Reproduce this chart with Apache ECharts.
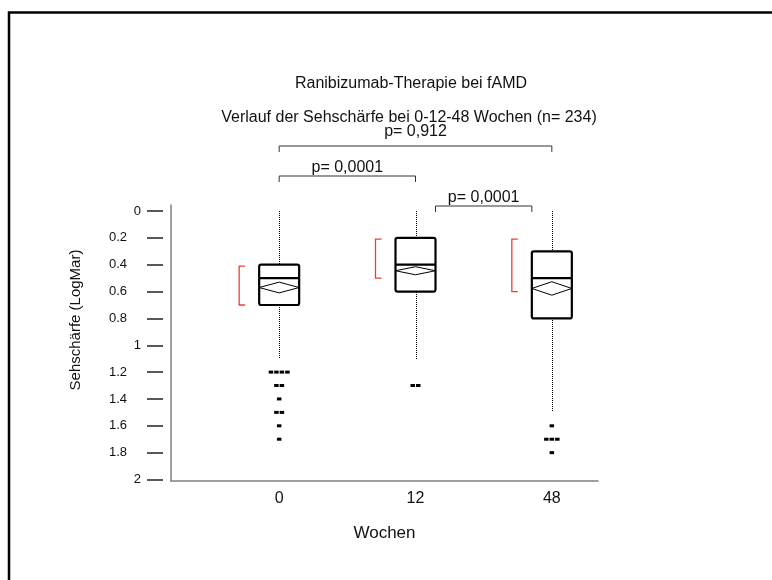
<!DOCTYPE html>
<html>
<head>
<meta charset="utf-8">
<title>Ranibizumab-Therapie bei fAMD</title>
<script src="https://cdn.jsdelivr.net/npm/echarts@6/dist/echarts.min.js"></script>
<style>
  html, body { margin: 0; padding: 0; background: #fff; }
  #chart { width: 772px; height: 580px; }
</style>
</head>
<body>
<div id="chart"></div>
<script>
// Wochen (Kategorien)
const weeks = ["0", "12", "48"];
// Boxplot-Kennwerte (LogMar)
const whiskerTop = [0, 0, 0];
const q1 = [0.4, 0.2, 0.3];
const median = [0.5, 0.4, 0.5];
const q3 = [0.7, 0.6, 0.8];
const whiskerBottom = [1.1, 1.1, 1.5];
// Mittelwert-Raute (Mittelwert +/- 95%-KI)
const means = [0.57, 0.445, 0.577];
const meanCI = [0.04, 0.03, 0.05];
// kürzeste Hälfte (rote Klammer)
const shortHalfLow = [0.41, 0.21, 0.21];
const shortHalfHigh = [0.7, 0.5, 0.6];
// Ausreißer
const outlierWeek = [0, 0, 0, 0, 0, 0, 0, 0, 0, 0, 0, 1, 1, 2, 2, 2, 2, 2];
const outlierValue = [1.2, 1.2, 1.2, 1.2, 1.3, 1.3, 1.4, 1.5, 1.5, 1.6, 1.7, 1.3, 1.3, 1.6, 1.7, 1.7, 1.7, 1.8];
// Vergleiche
const pFrom = [0, 0, 1];
const pTo = [2, 1, 2];
const pText = ["p= 0,912", "p= 0,0001", "p= 0,0001"];
// Y-Achse
const yTicks = { min: 0, max: 2, interval: 0.2 };

// Layout der Vergleichsklammern (Zeile, Einrückung, Abstand Text)
const bracketLayout = [
  { row: 2, inset: 0, lift: 14 },
  { row: 1, inset: 0, lift: 8 },
  { row: 0, inset: 20, lift: 8 },
];

const FONT = "Liberation Sans, Arial, sans-serif";
const BOX_W = 40;

const boxData = weeks.map((w, i) => [
  i, whiskerTop[i], q1[i], median[i], q3[i], whiskerBottom[i],
  means[i], meanCI[i], shortHalfLow[i], shortHalfHigh[i],
]);

const outlierData = outlierWeek.map((w, k) => {
  let slot = 0, n = 0;
  outlierWeek.forEach((w2, j) => {
    if (w2 === w && outlierValue[j] === outlierValue[k]) {
      if (j < k) slot++;
      n++;
    }
  });
  return [w, outlierValue[k], slot, n];
});

const pData = pFrom.map((f, k) => [f, pTo[k], k]);

const renderBox = (params, api) => {
  const i = api.value(0);
  const x = api.coord([i, 0])[0];
  const y = (v) => api.coord([i, v])[1];
  const half = BOX_W / 2;
  const m = api.value(6), ci = api.value(7);
  const bx = x - half - 20;
  // Punktlinie auf ganze Pixel legen, damit sie scharf bleibt
  const wx = Math.round(x) + 0.5;
  const wy = (v) => Math.round(y(v));
  const black = { stroke: "#000", fill: null };
  return {
    type: "group",
    children: [
      { type: "line", shape: { x1: wx, y1: wy(api.value(1)), x2: wx, y2: wy(api.value(2)) },
        style: { ...black, lineWidth: 1, lineDash: [1, 1] } },
      { type: "line", shape: { x1: wx, y1: wy(api.value(4)), x2: wx, y2: wy(api.value(5)) },
        style: { ...black, lineWidth: 1, lineDash: [1, 1] } },
      { type: "rect", shape: { x: x - half, y: y(api.value(2)), width: BOX_W, height: y(api.value(4)) - y(api.value(2)), r: 2 },
        style: { ...black, lineWidth: 2.2 } },
      { type: "line", shape: { x1: x - half, y1: y(api.value(3)), x2: x + half, y2: y(api.value(3)) },
        style: { ...black, lineWidth: 2.2 } },
      { type: "polygon", shape: { points: [[x - half, y(m)], [x, y(m - ci)], [x + half, y(m)], [x, y(m + ci)]] },
        style: { ...black, lineWidth: 1 } },
      { type: "polyline", shape: { points: [[bx + 6, y(api.value(8))], [bx, y(api.value(8))], [bx, y(api.value(9))], [bx + 6, y(api.value(9))]] },
        style: { stroke: "#e8413c", fill: null, lineWidth: 1.3 } },
    ],
  };
};

const renderOutlier = (params, api) => {
  const p = api.coord([api.value(0), api.value(1)]);
  const off = (api.value(2) - (api.value(3) - 1) / 2) * 5.5;
  return {
    type: "rect",
    shape: { x: p[0] + off - 2.25, y: p[1] - 1.5, width: 4.5, height: 3 },
    style: { fill: "#000" },
  };
};

const renderBracket = (params, api) => {
  const k = api.value(2);
  const lay = bracketLayout[k];
  const top = api.coord([0, yTicks.min])[1];
  const ly = top - 5 - 30 * lay.row;
  const x1 = api.coord([api.value(0), 0])[0] + lay.inset;
  const x2 = api.coord([api.value(1), 0])[0] - lay.inset;
  return {
    type: "group",
    children: [
      { type: "polyline", shape: { points: [[x1, ly + 6], [x1, ly], [x2, ly], [x2, ly + 6]] },
        style: { stroke: "#333", fill: null, lineWidth: 1 } },
      { type: "text", x: (x1 + x2) / 2, y: ly - lay.lift,
        style: { text: pText[k], fill: "#111", fontSize: 16, fontFamily: FONT, align: "center", verticalAlign: "middle" } },
    ],
  };
};

const chart = echarts.init(document.getElementById("chart"));

chart.setOption({
  backgroundColor: "#fff",
  animation: false,
  title: [
    { text: "Ranibizumab-Therapie bei fAMD", left: 406, top: 71, textAlign: "center",
      textStyle: { fontSize: 16, fontWeight: "normal", color: "#111", fontFamily: FONT } },
    { text: "Verlauf der Sehschärfe bei 0-12-48 Wochen (n= 234)", left: 404, top: 105, textAlign: "center",
      textStyle: { fontSize: 16, fontWeight: "normal", color: "#111", fontFamily: FONT } },
  ],
  graphic: [
    { type: "rect", shape: { x: 9, y: 12.5, width: 800, height: 600 },
      style: { stroke: "#000", fill: null, lineWidth: 2.5 }, silent: true },
  ],
  grid: [
    { left: 211, right: 152, top: 211, bottom: 100.5 },
    { left: 171, right: 174, top: 205, bottom: 99 },
  ],
  xAxis: [
    {
      gridIndex: 0, type: "category", data: weeks, boundaryGap: true,
      axisLine: { show: false }, axisTick: { show: false }, splitLine: { show: false },
      axisLabel: { fontSize: 16, color: "#111", fontFamily: FONT, margin: 11 },
    },
    {
      gridIndex: 1, type: "value", min: 0, max: 1,
      name: "Wochen", nameLocation: "middle", nameGap: 44,
      nameTextStyle: { fontSize: 17, color: "#111", fontFamily: FONT },
      axisLine: { show: true, lineStyle: { color: "#808080", width: 1.5 } },
      axisTick: { show: false }, axisLabel: { show: false }, splitLine: { show: false },
    },
  ],
  yAxis: [
    {
      gridIndex: 0, type: "value", inverse: true,
      min: yTicks.min, max: yTicks.max, interval: yTicks.interval,
      offset: 48,
      axisLine: { show: false },
      axisTick: { show: true, length: 16, lineStyle: { color: "#222", width: 1.5 } },
      splitLine: { show: false },
      axisLabel: {
        margin: 22, fontSize: 13, color: "#111", fontFamily: FONT,
        formatter: (v) => {
          const r = Math.round(v * 10) / 10;
          return Number.isInteger(r) ? "{i|" + r + "}" : "{d|" + r + "}";
        },
        rich: {
          i: { fontSize: 13, fontFamily: FONT, color: "#111" },
          d: { fontSize: 13, fontFamily: FONT, color: "#111", padding: [0, 14, 0, 0] },
        },
      },
    },
    {
      gridIndex: 1, type: "value", min: 0, max: 1,
      name: "Sehschärfe (LogMar)", nameLocation: "middle", nameGap: 88,
      nameTextStyle: { fontSize: 15, color: "#111", fontFamily: FONT, padding: [0, 0, 0, 46] },
      axisLine: { show: true, lineStyle: { color: "#808080", width: 1.5 } },
      axisTick: { show: false }, axisLabel: { show: false }, splitLine: { show: false },
    },
  ],
  series: [
    {
      type: "custom", name: "Box", xAxisIndex: 0, yAxisIndex: 0,
      data: boxData, renderItem: renderBox, encode: { x: 0, y: [1, 2, 3, 4, 5] }, clip: false,
    },
    {
      type: "custom", name: "Ausreißer", xAxisIndex: 0, yAxisIndex: 0,
      data: outlierData, renderItem: renderOutlier, encode: { x: 0, y: 1 }, clip: false,
    },
    {
      type: "custom", name: "Vergleich", xAxisIndex: 0, yAxisIndex: 0,
      data: pData, renderItem: renderBracket, encode: { x: 0 }, clip: false,
    },
  ],
});

window.addEventListener("resize", () => {
  chart.resize();
});
</script>
</body>
</html>
